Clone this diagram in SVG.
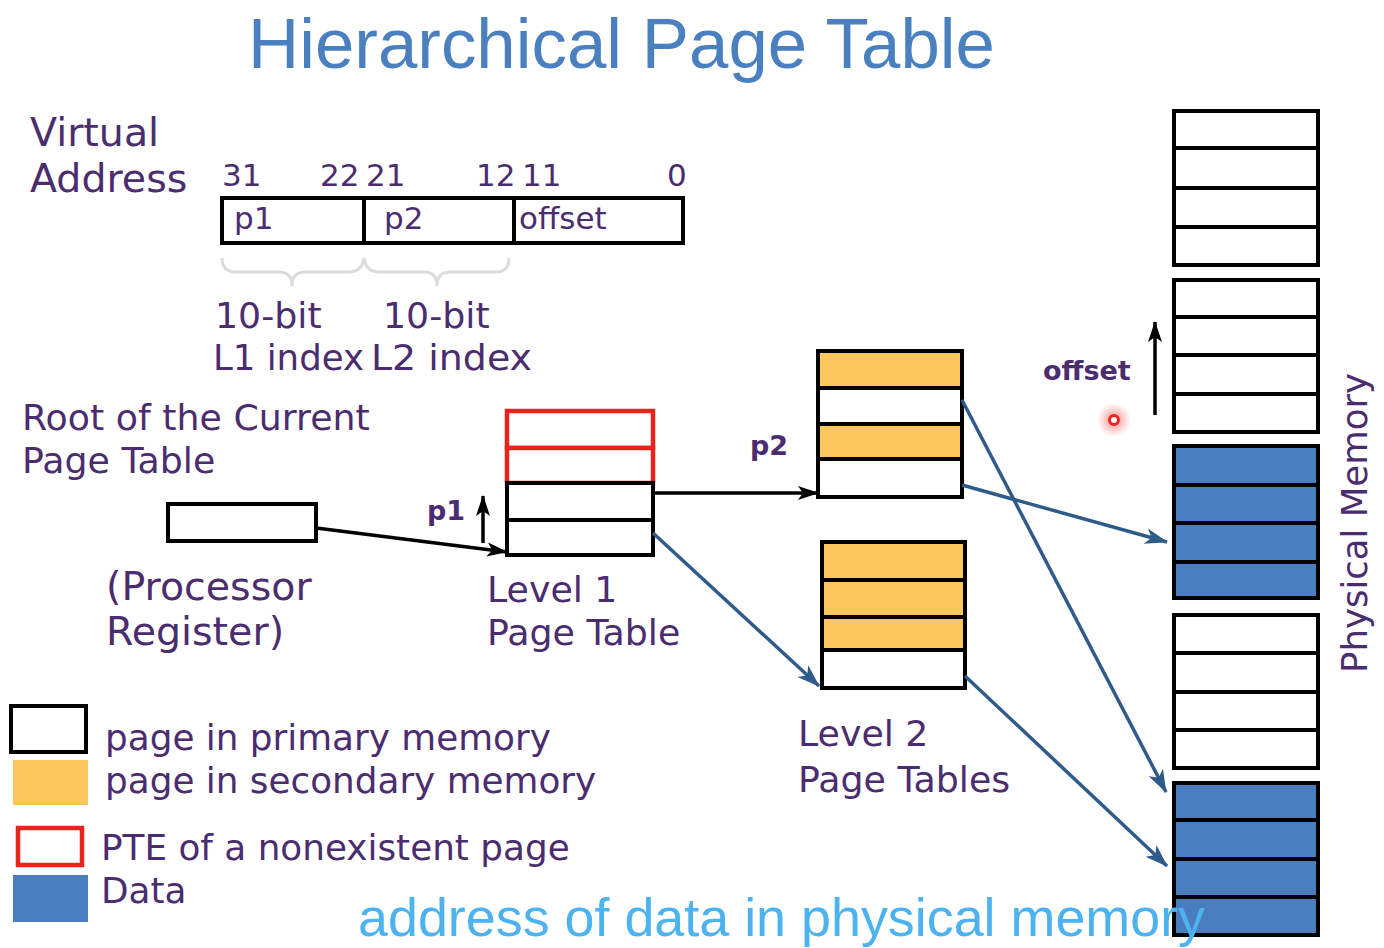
<svg xmlns="http://www.w3.org/2000/svg" width="1384" height="948" viewBox="0 0 1384 948">
<defs>
<style>
.t{font-family:"DejaVu Sans","Verdana",sans-serif;fill:#4b2d6f;font-size:36.3px}
.big{font-size:39.5px}
.num{font-size:31px}
.b{font-weight:bold;font-size:27px}
.cell{stroke:#000;stroke-width:4;fill:#fff}
.org{fill:#fdc65f}
.blu{fill:#4a7dbf}
.red{stroke:#e8251d;stroke-width:4.5;fill:#fff}
.ln{stroke:#000;stroke-width:4}
.ak{stroke:#000;stroke-width:3.5;fill:none}
.ab{stroke:#2f5b8a;stroke-width:3.5;fill:none}
</style>
<marker id="mk" markerUnits="userSpaceOnUse" markerWidth="22" markerHeight="16" refX="20" refY="8" orient="auto"><path d="M0,1 L21,8 L0,15 L5,8 Z" fill="#000"/></marker>
<marker id="mb" markerUnits="userSpaceOnUse" markerWidth="24" markerHeight="18" refX="22" refY="9" orient="auto"><path d="M0,1 L23,9 L0,17 L6,9 Z" fill="#2f5b8a"/></marker>
<radialGradient id="glow"><stop offset="0" stop-color="#ff3030" stop-opacity="0.55"/><stop offset="1" stop-color="#ff3030" stop-opacity="0"/></radialGradient>
</defs>
<rect width="1384" height="948" fill="#fff"/>
<text x="248" y="68" font-family="Liberation Sans, Arial, sans-serif" font-size="70" fill="#4a7fc0" textLength="747" lengthAdjust="spacingAndGlyphs">Hierarchical Page Table</text>

<g id="virtual-address">
<text class="t big" x="30" y="146">Virtual</text>
<text class="t big" x="30" y="192">Address</text>
<text class="t num" x="222" y="186">31</text>
<text class="t num" x="320" y="186">22</text>
<text class="t num" x="366" y="186">21</text>
<text class="t num" x="476" y="186">12</text>
<text class="t num" x="522" y="186">11</text>
<text class="t num" x="667" y="186">0</text>
<rect class="cell" x="222" y="198" width="461" height="45"/>
<line class="ln" x1="364" y1="198" x2="364" y2="243"/>
<line class="ln" x1="514" y1="198" x2="514" y2="243"/>
<text class="t num" x="234" y="229">p1</text>
<text class="t num" x="384" y="229">p2</text>
<text class="t num" x="519" y="229">offset</text>
<path d="M222,258 Q222,272 236,272 L279,272 Q292,272 292,286 Q292,272 305,272 L349,272 Q362,272 364,258 Q366,272 379,272 L424,272 Q437,272 437,286 Q437,272 450,272 L496,272 Q509,272 509,258" fill="none" stroke="#dcdcdc" stroke-width="3"/>
<text class="t" x="215" y="328">10-bit</text>
<text class="t" x="383" y="328">10-bit</text>
<text class="t" x="213" y="370" textLength="151" lengthAdjust="spacingAndGlyphs">L1 index</text>
<text class="t" x="371" y="370" textLength="161" lengthAdjust="spacingAndGlyphs">L2 index</text>
</g>

<g id="root-register">
<text class="t" x="22" y="430">Root of the Current</text>
<text class="t" x="22" y="473">Page Table</text>
<rect class="cell" x="168" y="504" width="148" height="37"/>
<text class="t big" x="106" y="600">(Processor</text>
<text class="t big" x="106" y="645">Register)</text>
</g>

<g id="level1">
<rect class="red" x="507" y="411" width="146" height="37"/>
<rect class="red" x="507" y="448" width="146" height="35"/>
<rect class="cell" x="507" y="483" width="146" height="37"/>
<rect class="cell" x="507" y="520" width="146" height="35"/>
<text class="t b" x="427" y="520">p1</text>
<text class="t" x="487" y="602">Level 1</text>
<text class="t" x="487" y="645">Page Table</text>
</g>

<g id="level2-top">
<rect class="cell org" x="818" y="351" width="144" height="37"/>
<rect class="cell" x="818" y="388" width="144" height="36"/>
<rect class="cell org" x="818" y="424" width="144" height="35"/>
<rect class="cell" x="818" y="459" width="144" height="38"/>
<text class="t b" x="750" y="455">p2</text>
</g>

<g id="level2-bottom">
<rect class="cell org" x="822" y="542" width="143" height="38"/>
<rect class="cell org" x="822" y="580" width="143" height="37"/>
<rect class="cell org" x="822" y="617" width="143" height="33"/>
<rect class="cell" x="822" y="650" width="143" height="38"/>
<text class="t" x="798" y="746">Level 2</text>
<text class="t" x="798" y="792">Page Tables</text>
</g>

<g id="physical-memory">
<rect class="cell" x="1174" y="111" width="144" height="154"/>
<line class="ln" x1="1174" y1="148" x2="1318" y2="148"/><line class="ln" x1="1174" y1="188" x2="1318" y2="188"/><line class="ln" x1="1174" y1="227" x2="1318" y2="227"/>
<rect class="cell" x="1174" y="280" width="144" height="152"/>
<line class="ln" x1="1174" y1="317" x2="1318" y2="317"/><line class="ln" x1="1174" y1="355" x2="1318" y2="355"/><line class="ln" x1="1174" y1="394" x2="1318" y2="394"/>
<rect class="cell blu" x="1174" y="446" width="144" height="152"/>
<line class="ln" x1="1174" y1="485" x2="1318" y2="485"/><line class="ln" x1="1174" y1="523" x2="1318" y2="523"/><line class="ln" x1="1174" y1="562" x2="1318" y2="562"/>
<rect class="cell" x="1174" y="615" width="144" height="153"/>
<line class="ln" x1="1174" y1="653" x2="1318" y2="653"/><line class="ln" x1="1174" y1="692" x2="1318" y2="692"/><line class="ln" x1="1174" y1="730" x2="1318" y2="730"/>
<rect class="cell blu" x="1174" y="783" width="144" height="152"/>
<line class="ln" x1="1174" y1="820" x2="1318" y2="820"/><line class="ln" x1="1174" y1="859" x2="1318" y2="859"/><line class="ln" x1="1174" y1="897" x2="1318" y2="897"/>
<text class="t" transform="translate(1367,523) rotate(-90)" text-anchor="middle" style="font-size:35.5px">Physical Memory</text>
<text class="t b" x="1043" y="380">offset</text>
</g>

<g id="pointer">
<circle cx="1114" cy="420" r="17" fill="url(#glow)"/>
<circle cx="1114" cy="420" r="4.5" fill="#fff" stroke="#f02020" stroke-width="3"/>
</g>

<g id="connectors">
<line class="ak" x1="316" y1="528" x2="507" y2="552" marker-end="url(#mk)"/>
<line class="ak" x1="483" y1="543" x2="483" y2="496" marker-end="url(#mk)"/>
<line class="ak" x1="653" y1="493" x2="818" y2="493" marker-end="url(#mk)"/>
<line class="ak" x1="1155" y1="415" x2="1155" y2="322" marker-end="url(#mk)"/>
<line class="ab" x1="653" y1="533" x2="819" y2="686" marker-end="url(#mb)"/>
<line class="ab" x1="962" y1="400" x2="1166" y2="792" marker-end="url(#mb)"/>
<line class="ab" x1="962" y1="485" x2="1167" y2="542" marker-end="url(#mb)"/>
<line class="ab" x1="965" y1="676" x2="1167" y2="866" marker-end="url(#mb)"/>
</g>

<g id="legend">
<rect class="cell" x="11" y="706" width="75" height="46"/>
<rect x="13" y="760" width="75" height="45" fill="#fdc65f"/>
<rect class="red" x="18" y="828" width="64" height="37"/>
<rect x="13" y="875" width="75" height="47" fill="#4a7dbf"/>
<text class="t" x="105" y="750" style="font-size:35.8px">page in primary memory</text>
<text class="t" x="105" y="793" style="font-size:35.8px">page in secondary memory</text>
<text class="t" x="101" y="860" style="font-size:35.8px">PTE of a nonexistent page</text>
<text class="t" x="101" y="903" style="font-size:35.8px">Data</text>
</g>

<text x="358" y="936" font-family="Liberation Sans, Arial, sans-serif" font-size="54" fill="#4db2f0" textLength="847" lengthAdjust="spacingAndGlyphs">address of data in physical memory</text>
</svg>
